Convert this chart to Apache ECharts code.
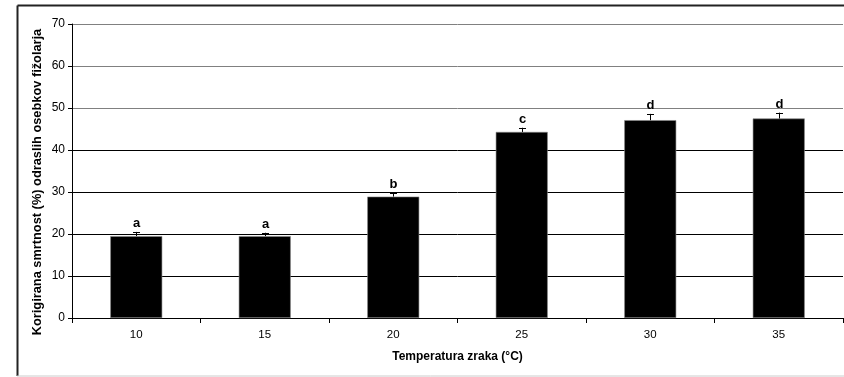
<!DOCTYPE html>
<html><head><meta charset="utf-8">
<script src="https://cdn.jsdelivr.net/npm/echarts@6/dist/echarts.min.js"></script>
<style>html,body{margin:0;padding:0;background:#fff}#c{width:844px;height:377px}</style>
</head><body><div id="c"></div>
<script>
const categories = ['10','15','20','25','30','35'];
const values = [19.5, 19.5, 28.9, 44.3, 47.1, 47.5];
const errors = [1.0, 0.8, 0.9, 1.0, 1.5, 1.4];
const letters = ['a','a','b','c','d','d'];
const yTicks = [0,10,20,30,40,50,60,70];
const yTitle = 'Korigirana smrtnost (%) odraslih osebkov fižolarja';
const xTitle = 'Temperatura zraka (°C)';

const chart = echarts.init(document.getElementById('c'), null, {renderer:'canvas'});
const font = 'Liberation Sans, Arial, sans-serif';
chart.setOption({
  animation:false,
  backgroundColor:'#fff',
  grid:{left:72, right:1, top:24, bottom:59, containLabel:false},
  graphic:[
    {type:'line', shape:{x1:17.5,y1:5.5,x2:844,y2:5.5}, style:{stroke:'#222',lineWidth:2}},
    {type:'line', shape:{x1:17.5,y1:5.5,x2:17.5,y2:376}, style:{stroke:'#222',lineWidth:2}},
    {type:'line', shape:{x1:17,y1:376,x2:844,y2:376}, style:{stroke:'#ccc',lineWidth:1}},
    {type:'text', x:37, y:182, rotation:Math.PI/2,
     style:{text:yTitle, fontFamily:font, fontSize:12.8, fontWeight:'bold', fill:'#000', align:'center', verticalAlign:'middle'}}
  ],
  xAxis:{
    type:'category', data:categories,
    name:xTitle, nameLocation:'middle', nameGap:33,
    nameTextStyle:{fontFamily:font,fontSize:12,fontWeight:'bold',color:'#000'},
    axisLine:{lineStyle:{color:'#000',width:1}},
    axisTick:{show:true,length:5,lineStyle:{color:'#000'}},
    axisLabel:{fontFamily:font,fontSize:11.5,color:'#000',margin:11},
    splitLine:{show:false}
  },
  yAxis:{
    type:'value', min:0, max:70, interval:10,
    axisLine:{show:true,lineStyle:{color:'#000',width:1}},
    axisTick:{show:true,length:4,lineStyle:{color:'#000'}},
    axisLabel:{fontFamily:font,fontSize:12,color:'#000',margin:7,
      formatter:function(v){return yTicks.indexOf(v)>=0?String(v):'';}},
    splitLine:{show:true,lineStyle:{color:['#000','#000','#000','#000','#000','#808080','#808080','#808080'],width:1}}
  },
  series:[
    {type:'bar', data:values, barWidth:52,
     itemStyle:{color:'#000',borderColor:'#888',borderWidth:0.6}},
    {type:'custom', z:5,
     data:values.map((v,i)=>[i,v,errors[i],letters[i]]),
     renderItem:function(params,api){
       const i=api.value(0), v=api.value(1), e=api.value(2);
       const base=api.coord([i,v]);
       const top=api.coord([i,v+e]);
       const x=Math.round(base[0])+0.5;
       return {type:'group',children:[
         {type:'line',shape:{x1:x,y1:base[1],x2:x,y2:top[1]},style:{stroke:'#000',lineWidth:1}},
         {type:'line',shape:{x1:x-3.5,y1:Math.round(top[1])+0.5,x2:x+3.5,y2:Math.round(top[1])+0.5},style:{stroke:'#000',lineWidth:1}},
         {type:'text',x:x,y:top[1]-2,style:{text:letters[params.dataIndex],fontFamily:font,fontSize:13,fontWeight:'bold',fill:'#000',align:'center',verticalAlign:'bottom'}}
       ]};
     }}
  ]
});
</script></body></html>
